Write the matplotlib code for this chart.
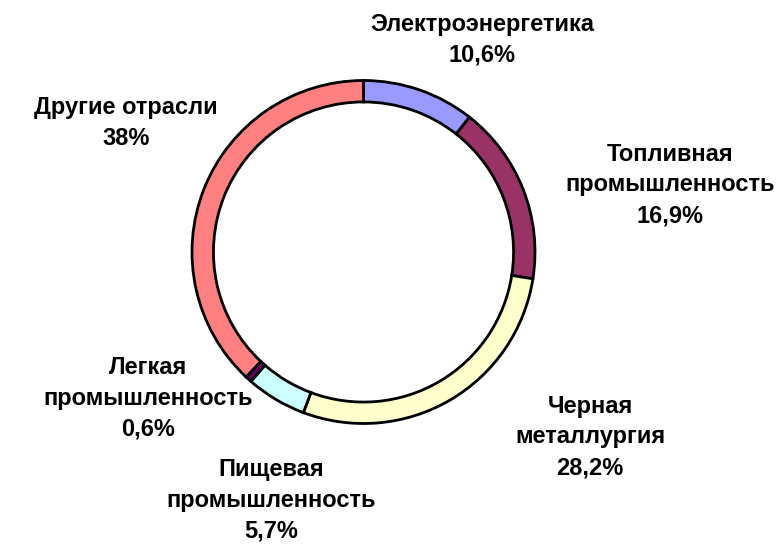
import matplotlib
matplotlib.use('Agg')
import matplotlib.pyplot as plt

# data, clockwise from 12 o'clock
labels = ['Электроэнергетика', 'Топливная\nпромышленность', 'Черная\nметаллургия',
          'Пищевая\nпромышленность', 'Легкая\nпромышленность', 'Другие отрасли']
values = [10.6, 16.9, 28.2, 5.7, 0.6, 38.0]
pct_text = ['10,6%', '16,9%', '28,2%', '5,7%', '0,6%', '38%']
colors = ['#9999FF', '#993366', '#FFFFCC', '#CCFFFF', '#660066', '#FF8080']

# label anchor points in pixels (x, y from top)
label_pos = [(482, 40), (670, 185), (590, 437), (271, 500), (148, 398), (126, 123)]

W, H = 779, 544
plt.rcParams['font.family'] = ['Liberation Sans', 'DejaVu Sans']
fig = plt.figure(figsize=(W / 100, H / 100), dpi=100)
ax = fig.add_axes([0, 0, 1, 1])

cx, cy, r = 363.5, H - 252, 171.5
ax.pie(values, colors=colors, startangle=90, counterclock=False,
       center=(cx, cy), radius=r, frame=True,
       wedgeprops=dict(width=r * 0.125, edgecolor='black', linewidth=2))
ax.set_xlim(0, W)
ax.set_ylim(0, H)
ax.set_aspect('equal')
ax.axis('off')

for lab, p, (x, y) in zip(labels, pct_text, label_pos):
    ax.text(x, H - y, lab + '\n' + p, ha='center', va='center',
            fontsize=17, fontweight='bold', linespacing=1.42)

fig.savefig('out.png', dpi=100)
